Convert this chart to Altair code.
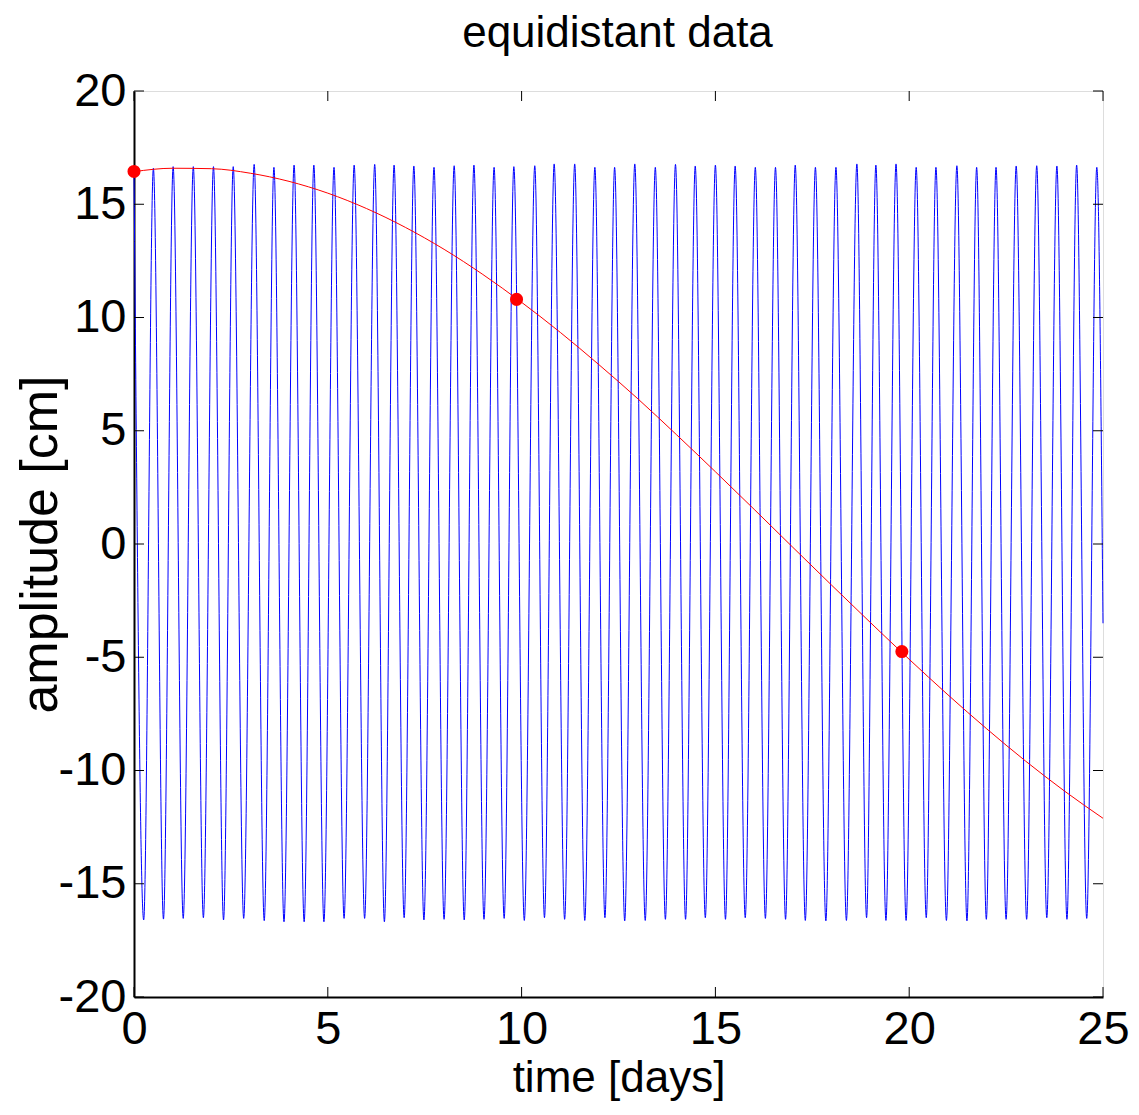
import altair as alt
import pandas as pd

# ---- data ----
# blue signal: crest times (days) and heights (cm)
peak_t = [0.00, 0.50, 1.01, 1.53, 2.05, 2.56, 3.10, 3.61, 4.13, 4.64, 5.16, 5.68, 6.21,
          6.71, 7.22, 7.74, 8.26, 8.77, 9.29, 9.80, 10.34, 10.84, 11.37, 11.89, 12.40,
          12.92, 13.45, 13.97, 14.48, 15.00, 15.51, 16.03, 16.55, 17.06, 17.58, 18.11,
          18.65, 19.14, 19.66, 20.18, 20.69, 21.23, 21.74, 22.24, 22.76, 23.29, 23.81,
          24.32, 24.84]
peak_v = [16.45, 16.59, 16.66, 16.66, 16.66, 16.66, 16.76, 16.63, 16.73, 16.73, 16.63, 16.73, 16.76,
          16.73, 16.69, 16.63, 16.70, 16.73, 16.63, 16.66, 16.70, 16.78, 16.78, 16.63, 16.63,
          16.78, 16.63, 16.76, 16.69, 16.73, 16.69, 16.63, 16.63, 16.73, 16.63, 16.63, 16.78,
          16.73, 16.78, 16.63, 16.63, 16.70, 16.63, 16.63, 16.69, 16.70, 16.69, 16.73, 16.63]
# blue signal: trough times (days) and depths (cm)
trough_t = [0.25, 0.76, 1.27, 1.79, 2.31, 2.83, 3.36, 3.87, 4.39, 4.90, 5.42, 5.95,
            6.46, 6.97, 7.48, 8.00, 8.52, 9.03, 9.55, 10.07, 10.59, 11.11, 11.63, 12.15,
            12.66, 13.19, 13.71, 14.23, 14.74, 15.26, 15.77, 16.29, 16.81, 17.32, 17.85, 18.38,
            18.90, 19.40, 19.92, 20.44, 20.96, 21.49, 21.99, 22.50, 23.03, 23.55, 24.07, 24.58]
trough_v = [-16.60, -16.56, -16.53, -16.50, -16.60, -16.53, -16.63, -16.68, -16.68, -16.68, -16.53, -16.53,
            -16.68, -16.50, -16.60, -16.57, -16.60, -16.57, -16.53, -16.62, -16.50, -16.57, -16.62, -16.50,
            -16.64, -16.62, -16.57, -16.57, -16.50, -16.57, -16.50, -16.53, -16.57, -16.62, -16.64, -16.62,
            -16.50, -16.62, -16.62, -16.50, -16.62, -16.64, -16.57, -16.57, -16.57, -16.50, -16.57, -16.53]
end_t = [25.0]
end_v = [-3.5]

# red (aliased) curve
red_t = [0, 1, 2, 3, 4, 5, 6, 7, 8, 9, 10, 11, 12, 13, 14, 15, 16, 17, 18, 19, 20, 21, 22, 23, 24, 25]
red_v = [16.44, 16.59, 16.57, 16.37, 16.01, 15.49, 14.81, 13.98, 13.01, 11.90, 10.67, 9.34, 7.91,
         6.41, 4.82, 3.19, 1.53, -0.15, -1.82, -3.47, -5.09, -6.66, -8.16, -9.58, -10.90, -12.11]

# red sample points
dot_t = [0.0, 9.87, 19.81]
dot_v = [16.45, 10.80, -4.75]

x_ticks = [0, 5, 10, 15, 20, 25]
y_ticks = [-20, -15, -10, -5, 0, 5, 10, 15, 20]
title_text = ["equidistant data"]

# ---- tables ----
blue = pd.DataFrame({"t": peak_t + trough_t + end_t, "v": peak_v + trough_v + end_v}).sort_values("t")
red = pd.DataFrame({"t": red_t, "v": red_v})
dots = pd.DataFrame({"t": dot_t, "v": dot_v})
xt = pd.DataFrame({"xt": x_ticks})
yt = pd.DataFrame({"yt": y_ticks})
tt = pd.DataFrame({"label": title_text})

W, H = 969, 906
FONT = "Liberation Sans"

xs = alt.Scale(domain=[0, 25], nice=False, zero=False)
ys = alt.Scale(domain=[-20, 20], nice=False, zero=False)

xax = alt.Axis(values=x_ticks, title="time [days]", ticks=False, grid=False,
               domain=True, domainColor="black", domainWidth=2,
               labelPadding=9, titlePadding=4, labelFontSize=47, titleFontSize=44,
               titleFontWeight="normal", labelFont=FONT, titleFont=FONT,
               labelFlush=False, labelOverlap=False, labelExpr="'' + datum.value")
yax = alt.Axis(values=y_ticks, title="amplitude [cm]", ticks=False, grid=False,
               domain=True, domainColor="black", domainWidth=2,
               labelPadding=8, labelFontSize=47, titleFontSize=52,
               titleFontWeight="normal", labelFont=FONT, titleFont=FONT,
               titleX=-67, titleY=H / 2,
               labelFlush=False, labelOverlap=False, labelExpr="'' + datum.value")

base_x = alt.X("t:Q", scale=xs, axis=xax)
base_y = alt.Y("v:Q", scale=ys, axis=yax)

blue_line = alt.Chart(blue).mark_line(color="#0000ff", strokeWidth=1, interpolate="monotone").encode(
    x=base_x, y=base_y, order=alt.Order("t:Q"))
red_line = alt.Chart(red).mark_line(color="#ff0000", strokeWidth=1, interpolate="monotone").encode(
    x=base_x, y=base_y)
red_dots = alt.Chart(dots).mark_circle(color="#ff0000", size=170, opacity=1).encode(
    x=base_x, y=base_y)

xtick_b = alt.Chart(xt).mark_rule(color="black", strokeWidth=1).encode(
    x=alt.X("xt:Q", scale=xs, axis=xax), y=alt.value(H), y2=alt.value(H - 10))
xtick_t = alt.Chart(xt).mark_rule(color="black", strokeWidth=1).encode(
    x=alt.X("xt:Q", scale=xs, axis=xax), y=alt.value(0), y2=alt.value(10))
ytick_l = alt.Chart(yt).mark_rule(color="black", strokeWidth=1).encode(
    y=alt.Y("yt:Q", scale=ys, axis=yax), x=alt.value(0), x2=alt.value(10))
ytick_r = alt.Chart(yt).mark_rule(color="black", strokeWidth=1).encode(
    y=alt.Y("yt:Q", scale=ys, axis=yax), x=alt.value(W), x2=alt.value(W - 10))

title_mark = alt.Chart(tt).mark_text(font=FONT, fontSize=44, color="black", align="center",
                                     baseline="alphabetic").encode(
    text="label:N", x=alt.value(W / 2 - 1), y=alt.value(-44))

chart = alt.layer(blue_line, red_line, red_dots, xtick_b, xtick_t, ytick_l, ytick_r, title_mark).properties(
    width=W, height=H,
    autosize=alt.AutoSizeParams(type="none"),
    padding={"left": 126, "top": 83, "right": 28, "bottom": 105},
).configure_view(
    stroke="black", strokeWidth=1
).configure_axis(
    labelFont=FONT, titleFont=FONT, labelColor="black", titleColor="black",
    titleFontWeight="normal"
).configure(background="white")

chart.save("out.html", embed_options={"renderer": "svg", "actions": False})
